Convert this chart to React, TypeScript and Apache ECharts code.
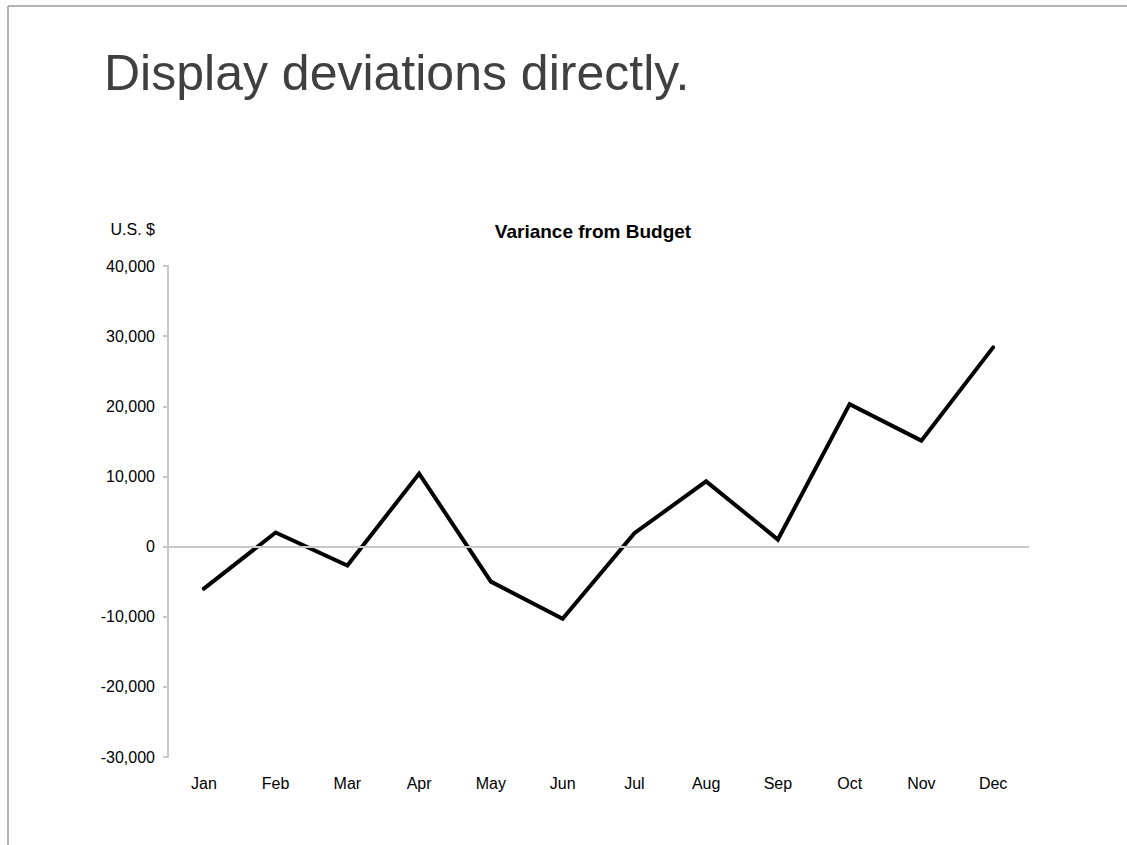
import React, { useEffect, useRef } from "react";
import * as echarts from "echarts";

const months = ["Jan", "Feb", "Mar", "Apr", "May", "Jun", "Jul", "Aug", "Sep", "Oct", "Nov", "Dec"];
const variance = [-6000, 2000, -2700, 10400, -5000, -10300, 1900, 9300, 1000, 20300, 15100, 28400];
const yMin = -30000;
const yMax = 40000;
const yStep = 10000;

const FONT = "'Liberation Sans', Arial, Helvetica, sans-serif";

export default function App() {
  const ref = useRef<HTMLDivElement>(null);
  useEffect(() => {
    if (!ref.current) return;
    const chart = echarts.init(ref.current, undefined, { renderer: "svg" });
    chart.setOption({
      animation: false,
      backgroundColor: "#ffffff",
      textStyle: { fontFamily: FONT },
      graphic: [
        { type: "line", shape: { x1: 8, y1: 6, x2: 1127, y2: 6 }, style: { stroke: "#b3b3b3", lineWidth: 2 } },
        { type: "line", shape: { x1: 8, y1: 6, x2: 8, y2: 845 }, style: { stroke: "#b3b3b3", lineWidth: 2 } },
        {
          type: "text",
          left: 104,
          top: 48,
          style: { text: "Display deviations directly.", fontSize: 50, fill: "#404040", fontFamily: FONT },
        },
        {
          type: "text",
          x: 593,
          y: 231,
          style: {
            text: "Variance from Budget",
            fontSize: 19,
            fontWeight: "bold",
            fill: "#000",
            fontFamily: FONT,
            align: "center",
            verticalAlign: "middle",
          },
        },
        {
          type: "text",
          x: 155,
          y: 229,
          style: {
            text: "U.S. $",
            fontSize: 16,
            fill: "#000",
            fontFamily: FONT,
            align: "right",
            verticalAlign: "middle",
          },
        },
      ],
      grid: { left: 168, right: 98, top: 266, bottom: 88, containLabel: false },
      xAxis: {
        type: "category",
        data: months,
        boundaryGap: true,
        axisLine: { show: false, onZero: false },
        axisTick: { show: false },
        axisLabel: { fontSize: 16, color: "#000", margin: 18, fontFamily: FONT },
        splitLine: { show: false },
      },
      yAxis: {
        type: "value",
        min: yMin,
        max: yMax,
        interval: yStep,
        axisLine: { show: true, lineStyle: { color: "#c8c8c8", width: 2 } },
        axisTick: { show: true, length: 5, lineStyle: { color: "#c8c8c8", width: 2 } },
        axisLabel: {
          fontSize: 16,
          color: "#000",
          margin: 13,
          fontFamily: FONT,
          formatter: (v: number) => v.toLocaleString("en-US"),
        },
        splitLine: { show: false },
      },
      series: [
        {
          type: "line",
          data: variance,
          symbol: "none",
          lineStyle: { color: "#000", width: 4, cap: "round", join: "miter" },
          markLine: {
            silent: true,
            symbol: "none",
            label: { show: false },
            lineStyle: { color: "#c8c8c8", width: 2, type: "solid" },
            data: [{ yAxis: 0 }],
          },
        },
      ],
    });
    return () => chart.dispose();
  }, []);
  return (
    <div
      ref={ref}
      style={{ position: "fixed", left: 0, top: 0, width: 1127, height: 845 }}
    />
  );
}
